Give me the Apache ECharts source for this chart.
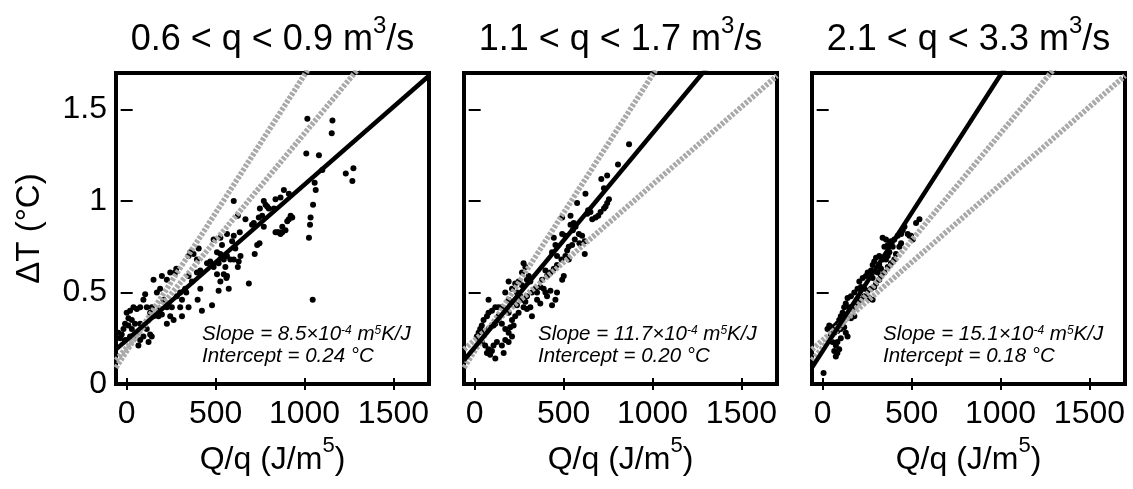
<!DOCTYPE html>
<html>
<head>
<meta charset="utf-8">
<script src="https://cdn.jsdelivr.net/npm/echarts@6/dist/echarts.min.js"></script>
<style>
  html, body { margin: 0; padding: 0; background: #fff; }
  #chart { width: 1133px; height: 489px; }
</style>
</head>
<body>
<div id="chart"></div>
<script>
// Flow-rate classes, one panel each
const flowRanges = ['0.6 < q < 0.9', '1.1 < q < 1.7', '2.1 < q < 3.3'];
// Linear fits ΔT = intercept + slope·Q/q  (slope in 10^-4 m^5K/J, intercept in °C)
const slopes = [8.5, 11.7, 15.1];
const intercepts = [0.24, 0.20, 0.18];
// Axis ticks
const xTicks = [0, 500, 1000, 1500];
const yTicks = [0, 0.5, 1, 1.5];

// Observations [Q/q (J/m^5), ΔT (°C)]
const pointsLow = [
  [1016,1.45],[1157,1.44],[1153,1.37],[1010,1.26],[1081,1.25],[1100,1.17],[1232,1.15],[1275,1.18],
  [1269,1.11],[1057,1.10],[1063,1.06],[1048,0.98],[1034,0.91],[1031,0.87],[1025,0.80],[1046,0.46],
  [602,1.00],[884,1.06],[771,1.00],[781,0.98],[790,0.97],[799,0.96],[828,0.96],[837,1.01],[865,1.02],
  [912,1.04],[922,0.92],[912,0.90],[903,0.89],[931,0.91],[846,0.83],[856,0.83],[875,0.83],[893,0.84],
  [875,0.86],[865,0.82],[837,0.83],[771,0.86],[762,0.92],[715,0.88],[743,0.91],[749,0.96],[705,0.87],
  [668,0.90],[625,0.92],[636,0.83],[602,0.81],[564,0.82],[527,0.80],[489,0.79],[536,0.76],[593,0.78],
  [611,0.74],[564,0.70],[640,0.70],[630,0.67],[625,0.64],[602,0.68],[583,0.68],[546,0.68],[555,0.64],
  [517,0.66],[508,0.72],[527,0.71],[470,0.67],[452,0.66],[489,0.64],[508,0.60],[546,0.60],[561,0.58],
  [527,0.56],[517,0.51],[574,0.52],[564,0.59],[687,0.55],[720,0.71],[734,0.76],[747,0.77],[405,0.74],
  [395,0.68],[358,0.72],[348,0.70],[376,0.71],[414,0.62],[395,0.61],[348,0.59],[367,0.56],[414,0.52],
  [399,0.46],[480,0.43],[423,0.40],[348,0.42],[329,0.52],[335,0.50],[301,0.50],[311,0.46],[282,0.48],
  [273,0.61],[279,0.63],[245,0.61],[226,0.57],[198,0.59],[151,0.57],[188,0.52],[170,0.50],[207,0.46],
  [235,0.44],[254,0.42],[245,0.37],[264,0.35],[301,0.42],[226,0.33],[188,0.41],[198,0.38],[179,0.37],
  [151,0.37],[132,0.39],[141,0.42],[104,0.49],[94,0.46],[113,0.42],[76,0.42],[57,0.41],[38,0.42],
  [19,0.40],[0,0.39],[10,0.36],[29,0.35],[47,0.33],[76,0.33],[94,0.32],[113,0.30],[132,0.27],
  [123,0.23],[141,0.26],[94,0.26],[57,0.28],[29,0.30],[10,0.32],[-9,0.33],[-18,0.30],[-28,0.27],
  [-37,0.25],[-47,0.28],[-9,0.24],[19,0.26],[38,0.26],[76,0.24],[66,0.21],[226,0.42],[311,0.37]
];
const pointsMid = [
  [868,1.31],[806,1.20],[745,1.14],[712,1.12],[727,1.07],[623,1.04],[755,1.01],[745,0.99],[736,0.97],
  [727,0.96],[708,0.94],[695,0.92],[680,0.91],[661,0.90],[638,0.95],[651,0.94],[633,0.93],[576,0.99],
  [539,0.92],[492,0.91],[557,0.88],[567,0.86],[552,0.84],[539,0.87],[586,0.82],[604,0.81],[619,0.78],
  [589,0.77],[619,0.71],[563,0.79],[548,0.76],[529,0.75],[520,0.73],[492,0.82],[510,0.81],[445,0.80],
  [454,0.76],[435,0.72],[463,0.70],[488,0.68],[510,0.70],[529,0.68],[501,0.59],[492,0.57],[463,0.65],
  [445,0.63],[426,0.61],[398,0.62],[407,0.59],[379,0.57],[369,0.53],[388,0.52],[398,0.50],[351,0.50],
  [341,0.52],[426,0.51],[407,0.48],[454,0.46],[463,0.50],[435,0.43],[369,0.44],[351,0.46],[322,0.37],
  [313,0.42],[294,0.41],[275,0.66],[285,0.64],[266,0.61],[304,0.59],[294,0.57],[313,0.56],[266,0.54],
  [247,0.56],[228,0.55],[191,0.56],[210,0.52],[238,0.50],[257,0.48],[266,0.46],[322,0.50],[294,0.48],
  [285,0.45],[275,0.42],[172,0.50],[191,0.46],[219,0.45],[238,0.43],[247,0.39],[228,0.37],[210,0.35],
  [191,0.39],[172,0.41],[153,0.42],[134,0.42],[116,0.42],[97,0.40],[78,0.39],[69,0.37],[50,0.35],
  [40,0.32],[31,0.30],[22,0.28],[50,0.28],[78,0.30],[97,0.32],[116,0.33],[134,0.35],[153,0.33],
  [172,0.30],[191,0.28],[172,0.24],[153,0.21],[125,0.23],[106,0.21],[78,0.19],[69,0.17],[87,0.16],
  [116,0.14],[97,0.18],[59,0.21],[40,0.23],[22,0.24],[12,0.26],[200,0.31],[219,0.32],[210,0.26],
  [191,0.23],[163,0.17],[78,0.46],[134,0.37],[106,0.32]
];
const pointsHigh = [
  [5,0.06],[544,0.90],[525,0.88],[460,0.86],[450,0.84],[441,0.82],[478,0.82],[488,0.81],[497,0.81],
  [507,0.79],[422,0.81],[403,0.79],[384,0.78],[366,0.76],[347,0.75],[337,0.80],[356,0.79],[394,0.75],
  [375,0.72],[366,0.70],[356,0.68],[337,0.68],[318,0.70],[300,0.69],[290,0.67],[281,0.65],[318,0.65],
  [328,0.63],[309,0.61],[347,0.61],[366,0.64],[384,0.66],[403,0.68],[412,0.71],[431,0.75],[441,0.77],
  [272,0.62],[253,0.61],[243,0.59],[225,0.58],[206,0.56],[215,0.53],[234,0.52],[253,0.51],[272,0.52],
  [290,0.53],[300,0.55],[318,0.57],[281,0.58],[196,0.52],[178,0.50],[159,0.48],[140,0.47],[130,0.44],
  [149,0.42],[168,0.41],[178,0.43],[196,0.45],[215,0.46],[234,0.48],[262,0.47],[281,0.46],[121,0.42],
  [112,0.39],[102,0.37],[93,0.35],[83,0.33],[74,0.32],[55,0.31],[37,0.32],[27,0.30],[46,0.27],
  [65,0.28],[83,0.29],[102,0.30],[121,0.31],[130,0.28],[140,0.26],[102,0.25],[83,0.23],[74,0.21],
  [65,0.18],[83,0.17],[74,0.15],[93,0.19],[55,0.23],[159,0.36],[178,0.37],[328,0.59]
];
const panelPoints = [pointsLow, pointsMid, pointsHigh];

// Layout
const FONT = "'Liberation Sans', Arial, Helvetica, sans-serif";
const X_MIN = -60, X_MAX = 1700, Y_MIN = 0, Y_MAX = 1.7;
const panelLeft = [116, 464, 812];
const panelTop = 73, panelW = 313, panelH = 311;

function fitLine(k) {
  const m = slopes[k] * 1e-4, b = intercepts[k];
  return [[X_MIN, b + m * X_MIN], [X_MAX, b + m * X_MAX]];
}

const supRich = (size, supSize, raise) => ({
  t: { fontSize: size, fontFamily: FONT, color: '#000', fill: '#000', verticalAlign: 'bottom' },
  s: { fontSize: supSize, fontFamily: FONT, color: '#000', fill: '#000', verticalAlign: 'bottom', padding: [0, 0, raise, 0] }
});
const noteRich = {
  t: { fontSize: 20.5, fontStyle: 'italic', fontFamily: FONT, fill: '#000', verticalAlign: 'bottom' },
  s: { fontSize: 12, fontStyle: 'italic', fontFamily: FONT, fill: '#000', verticalAlign: 'bottom', padding: [0, 0, 7, 0] }
};

const grid = [], xAxis = [], yAxis = [], series = [], graphic = [];
const tickStyle = { color: '#000', width: 2 };
const plainNumber = v => String(v);

for (let g = 0; g < 3; g++) {
  grid.push({ left: panelLeft[g], top: panelTop, width: panelW, height: panelH,
    show: true, borderColor: '#000', borderWidth: 4, backgroundColor: 'transparent',
    containLabel: false, outerBoundsMode: 'none' });

  xAxis.push({
    gridIndex: g, type: 'value', min: X_MIN, max: X_MAX, position: 'bottom',
    axisLine: { show: false }, splitLine: { show: false },
    axisTick: { show: true, inside: true, length: 6, customValues: xTicks, lineStyle: tickStyle },
    axisLabel: { customValues: xTicks, formatter: plainNumber, fontSize: 32, fontFamily: FONT, color: '#000', margin: 14 },
    name: '{t|Q/q (J/m}{s|5}{t|)}', nameLocation: 'middle', nameGap: 46,
    nameTextStyle: { rich: supRich(32, 22, 19) }
  });
  xAxis.push({
    gridIndex: g, type: 'value', min: X_MIN, max: X_MAX, position: 'top',
    axisLine: { show: false }, splitLine: { show: false }, axisLabel: { show: false },
    axisTick: { show: true, inside: true, length: 6, customValues: xTicks, lineStyle: tickStyle }
  });
  yAxis.push({
    gridIndex: g, type: 'value', min: Y_MIN, max: Y_MAX, position: 'left',
    axisLine: { show: false }, splitLine: { show: false },
    axisTick: { show: true, inside: true, length: 6, customValues: yTicks, lineStyle: tickStyle },
    axisLabel: { show: g === 0, customValues: yTicks, formatter: plainNumber, fontSize: 32, fontFamily: FONT, color: '#000', margin: 9 },
    name: g === 0 ? 'ΔT (°C)' : '', nameLocation: 'middle', nameGap: 70,
    nameTextStyle: { fontSize: 33, fontFamily: FONT, color: '#000' }
  });
  yAxis.push({
    gridIndex: g, type: 'value', min: Y_MIN, max: Y_MAX, position: 'right',
    axisLine: { show: false }, splitLine: { show: false }, axisLabel: { show: false },
    axisTick: { show: true, inside: true, length: 6, customValues: yTicks, lineStyle: tickStyle }
  });

  const xi = 2 * g, yi = 2 * g;
  series.push({
    type: 'scatter', xAxisIndex: xi, yAxisIndex: yi, data: panelPoints[g],
    symbol: 'circle', symbolSize: 6, itemStyle: { color: '#000', opacity: 1 }, z: 2, silent: true
  });
  for (let k = 0; k < 3; k++) {
    if (k === g) continue;
    series.push({
      type: 'line', xAxisIndex: xi, yAxisIndex: yi, data: fitLine(k), clip: true,
      showSymbol: false, symbol: 'none', z: 3, silent: true,
      lineStyle: { color: '#a9a9a9', width: 5.5, type: [3, 1.5], cap: 'butt' }
    });
  }
  series.push({
    type: 'line', xAxisIndex: xi, yAxisIndex: yi, data: fitLine(g), clip: true,
    showSymbol: false, symbol: 'none', z: 4, silent: true,
    lineStyle: { color: '#000', width: 4.5 }
  });

  // Panel heading
  graphic.push({
    type: 'text', x: panelLeft[g] + panelW / 2, y: 14, z: 10,
    style: { text: '{t|' + flowRanges[g] + ' m}{s|3}{t|/s}', align: 'center', verticalAlign: 'top',
      rich: supRich(36, 24, 20) }
  });
  // Fit summary
  const noteX = panelLeft[g] + [86, 74, 71][g];
  graphic.push({
    type: 'text', x: noteX, y: 344, z: 10,
    style: { text: '{t|Slope = ' + slopes[g].toFixed(1) + '×10}{s|-4}{t| m}{s|5}{t|K/J}',
      align: 'left', verticalAlign: 'bottom', rich: noteRich }
  });
  graphic.push({
    type: 'text', x: noteX, y: 366, z: 10,
    style: { text: '{t|Intercept = ' + intercepts[g].toFixed(2) + ' °C}',
      align: 'left', verticalAlign: 'bottom', rich: noteRich }
  });
}

const chart = echarts.init(document.getElementById('chart'), null, { renderer: 'canvas' });
chart.setOption({
  animation: false,
  backgroundColor: '#fff',
  textStyle: { fontFamily: FONT, color: '#000' },
  grid, xAxis, yAxis, series, graphic
});
</script>
</body>
</html>
